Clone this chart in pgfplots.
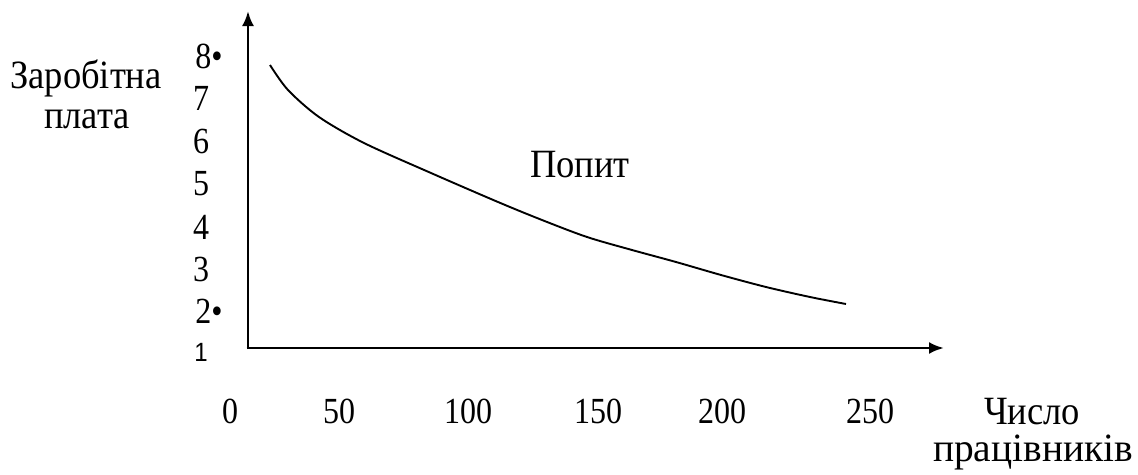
\documentclass[border=0pt]{standalone}
\usepackage{pgfplots}
\pgfplotsset{compat=1.18}
\usepackage{fontspec}
\setmainfont{Liberation Serif}
\newfontfamily\arialf{Liberation Sans}
\usetikzlibrary{arrows.meta}
\newcommand\TX[1]{\scalebox{1}[1.1]{\fontsize{36.5}{36.5}\selectfont #1}}
\newcommand\DG[1]{\scalebox{1}[1.15]{\fontsize{32}{32}\selectfont #1}}
\begin{document}
\begin{tikzpicture}
\begin{axis}[
  scale only axis, width=1138pt, height=474pt,
  xmin=0, xmax=1138, ymin=0, ymax=474,
  hide axis, clip=false,
  y dir=reverse,
  every node/.style={inner sep=0pt},
]
% invisible frame to fix the bounding box
\addplot[draw=none] coordinates {(0,0) (1138,474)};
% axes
\addplot[line width=2.8pt, -{Latex[length=15pt,width=12pt]}] coordinates {(248,349) (248,11)};
\addplot[line width=2.8pt, -{Latex[length=15pt,width=12pt]}] coordinates {(246.6,348) (944,348)};
% demand curve
\addplot[line width=1.9pt, smooth, tension=0.5] coordinates {
(270,65) (288,90) (319,117) (364,143) (431,173) (498,202) (542,220)
(587,237) (632,250) (676,262) (721,275) (766,287) (810,297) (846,304)};
% texts
\node[anchor=base] at (axis cs:580,177) {\TX{Попит}};
\node[anchor=base] at (axis cs:86,88) {\TX{Заробітна}};
\node[anchor=base] at (axis cs:87,128) {\TX{плата}};
\node[anchor=base] at (axis cs:1032,424) {\TX{Число}};
\node[anchor=base] at (axis cs:1033,461) {\scalebox{1.08}[1]{\TX{працівників}}};
% y numbers
\node at (axis cs:209,56) {\DG{8•}};
\node at (axis cs:201,98) {\DG{7}};
\node at (axis cs:201,141) {\DG{6}};
\node at (axis cs:201,184) {\DG{5}};
\node at (axis cs:201,227) {\DG{4}};
\node at (axis cs:201,269) {\DG{3}};
\node at (axis cs:209,311) {\DG{2•}};
\node at (axis cs:201,352) {\scalebox{1}[1.1]{\arialf\fontsize{24}{24}\selectfont 1}};
% x numbers
\node at (axis cs:230,411) {\DG{0}};
\node at (axis cs:339,411) {\DG{50}};
\node at (axis cs:468,411) {\DG{100}};
\node at (axis cs:598,411) {\DG{150}};
\node at (axis cs:722,411) {\DG{200}};
\node at (axis cs:870,411) {\DG{250}};
\end{axis}
\end{tikzpicture}
\end{document}
